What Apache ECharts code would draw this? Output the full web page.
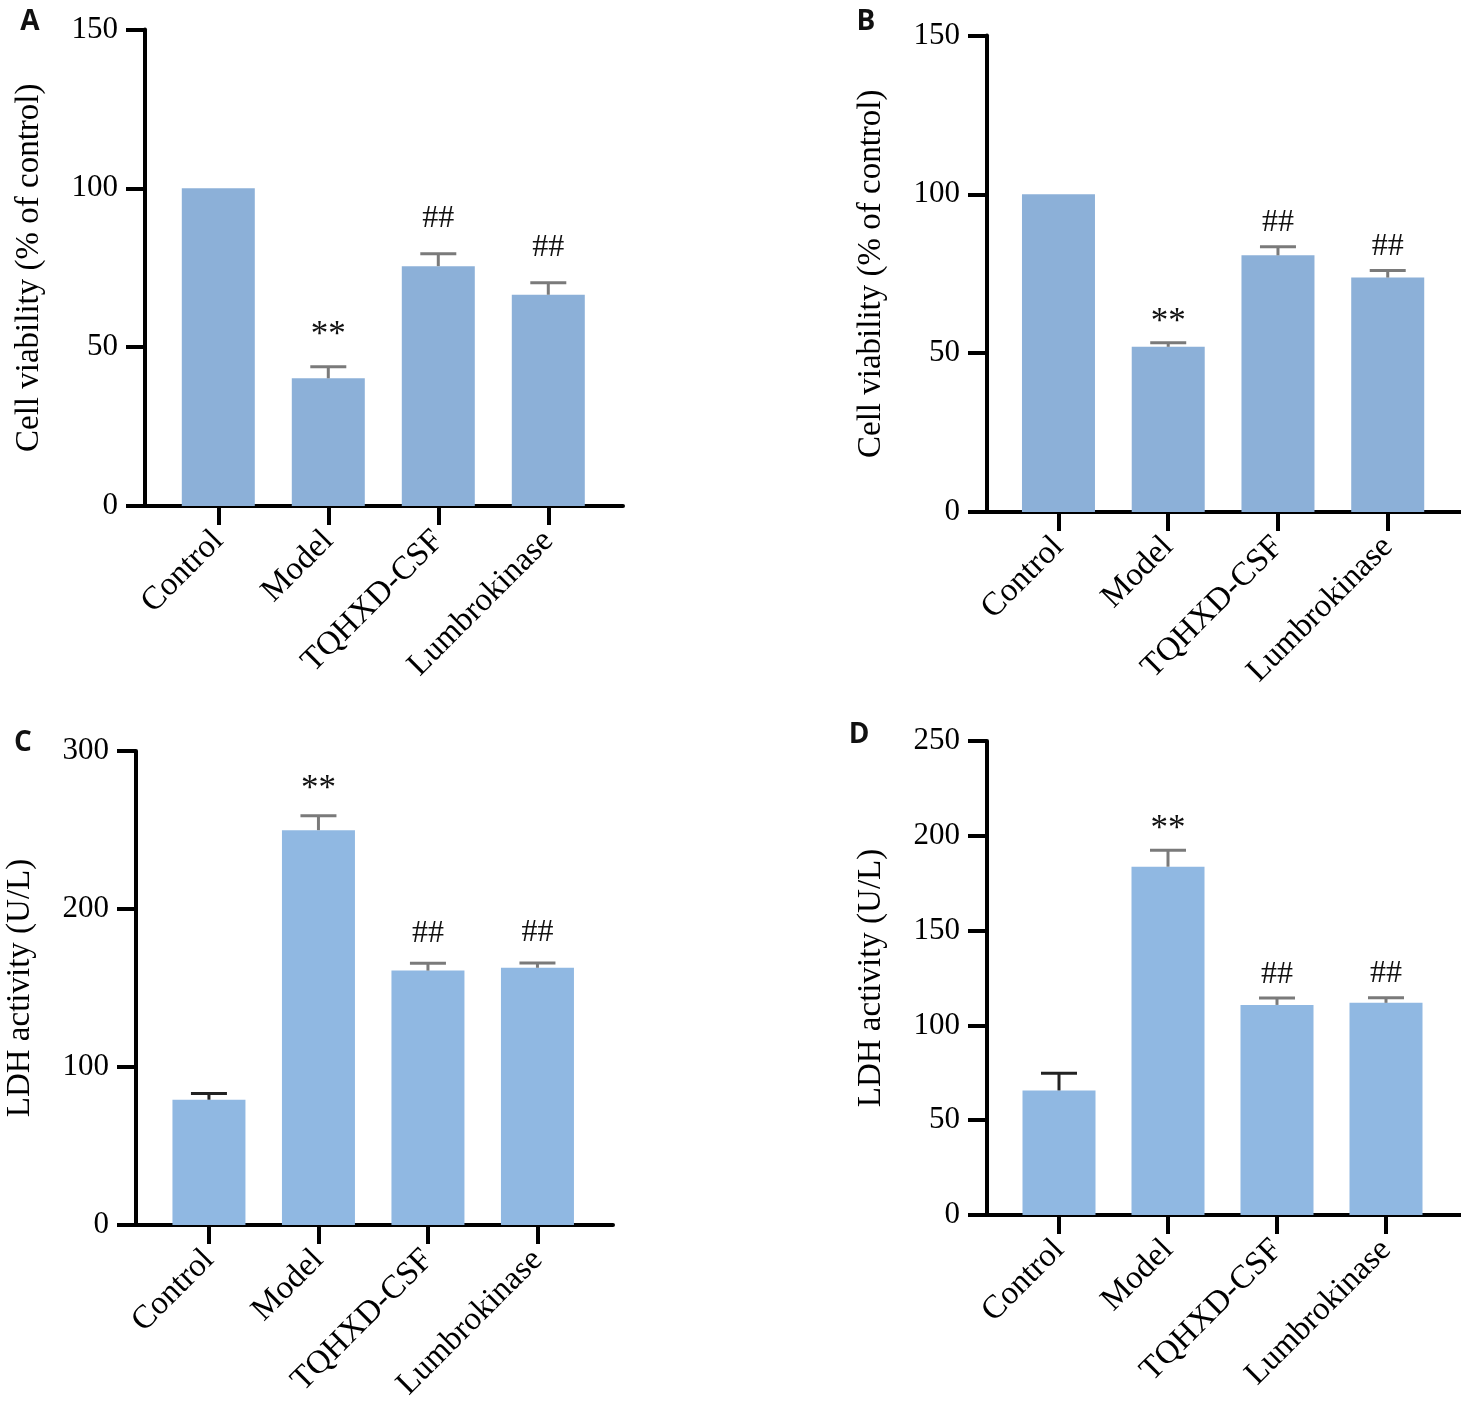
<!DOCTYPE html>
<html>
<head>
<meta charset="utf-8">
<script src="https://cdn.jsdelivr.net/npm/echarts@6/dist/echarts.min.js"></script>
<style>html,body{margin:0;padding:0;background:#fff}#c{width:1461px;height:1404px}</style>
</head>
<body>
<div id="c"></div>
<script>
// ---- data ----
const categories = ['Control', 'Model', 'TQHXD-CSF', 'Lumbrokinase'];
const viabilityA = [100, 40.2, 75.5, 66.5];
const viabilityAErr = [0, 3.6, 3.9, 3.8];
const viabilityB = [100, 52.0, 80.8, 73.8];
const viabilityBErr = [0, 1.3, 2.7, 2.2];
const ldhC = [79.3, 249.9, 161.0, 162.8];
const ldhCErr = [4.0, 9.1, 4.6, 3.0];
const ldhD = [65.7, 183.7, 110.8, 111.9];
const ldhDErr = [9.1, 8.7, 3.6, 2.7];
const marksA = ['', '**', '##', '##'];
const marksB = ['', '**', '##', '##'];
const marksC = ['', '**', '##', '##'];
const marksD = ['', '**', '##', '##'];
const ticksViability = {min: 0, max: 150, interval: 50};
const ticksLdhC = {min: 0, max: 300, interval: 100};
const ticksLdhD = {min: 0, max: 250, interval: 50};
const nameViability = 'Cell viability (% of control)';
const nameLdh = 'LDH activity (U/L)';
const panelLetters = ['A', 'B', 'C', 'D'];

// ---- layout / style ----
const SERIF = '"Liberation Serif", "Times New Roman", serif';
const panels = [
  {vals: viabilityA, errs: viabilityAErr, marks: marksA, ticks: ticksViability, name: nameViability,
   frame: {left: 145, top: 29.5, width: 478, height: 476.5}, bars: {left: 163.3, width: 440},
   color: '#8cb0d8', ctrlErr: '#7f7f7f', markGap: 35, letter: [30, 22]},
  {vals: viabilityB, errs: viabilityBErr, marks: marksB, ticks: ticksViability, name: nameViability,
   frame: {left: 987, top: 35.5, width: 474, height: 476.5}, bars: {left: 1003.6, width: 439},
   color: '#8cb0d8', ctrlErr: '#7f7f7f', markGap: 24, letter: [866, 22]},
  {vals: ldhC, errs: ldhCErr, marks: marksC, ticks: ticksLdhC, name: nameLdh,
   frame: {left: 136, top: 751, width: 477, height: 474}, bars: {left: 154.2, width: 438},
   color: '#90b8e2', ctrlErr: '#222', markGap: 30, letter: [23, 743]},
  {vals: ldhD, errs: ldhDErr, marks: marksD, ticks: ticksLdhD, name: nameLdh,
   frame: {left: 987, top: 741, width: 474, height: 474}, bars: {left: 1004.5, width: 436},
   color: '#90b8e2', ctrlErr: '#222', markGap: 24, letter: [859, 735]}
];

const grid = [], xAxis = [], yAxis = [], series = [], graphic = [];
panels.forEach((p, k) => {
  const gFrame = grid.length;
  grid.push({left: p.frame.left, top: p.frame.top, width: p.frame.width, height: p.frame.height});
  const gBars = grid.length;
  grid.push({left: p.bars.left, top: p.frame.top, width: p.bars.width, height: p.frame.height});

  xAxis.push({type: 'value', gridIndex: gFrame, min: 0, max: 1,
    axisLine: {show: true, lineStyle: {color: '#000', width: 4}},
    axisTick: {show: false}, axisLabel: {show: false}, splitLine: {show: false}});
  yAxis.push({type: 'value', gridIndex: gFrame, min: p.ticks.min, max: p.ticks.max, interval: p.ticks.interval,
    axisLine: {show: true, lineStyle: {color: '#000', width: 4}},
    axisTick: {show: true, inside: false, length: 19, lineStyle: {color: '#000', width: 4}},
    axisLabel: {show: true, margin: 27, fontSize: 31, fontFamily: SERIF, color: '#000'},
    splitLine: {show: false},
    name: p.name, nameLocation: 'middle', nameGap: 99,
    nameTextStyle: {fontSize: 33, fontFamily: SERIF, color: '#000'}});

  const xB = xAxis.length;
  xAxis.push({type: 'category', gridIndex: gBars, data: categories, boundaryGap: true,
    axisLine: {show: false},
    axisTick: {show: true, alignWithLabel: true, length: 19, lineStyle: {color: '#000', width: 4}},
    axisLabel: {show: true, interval: 0, rotate: 45, margin: 30, fontSize: 33, fontFamily: SERIF, color: '#000'},
    splitLine: {show: false}});
  const yB = yAxis.length;
  yAxis.push({type: 'value', gridIndex: gBars, min: p.ticks.min, max: p.ticks.max, show: false});

  series.push({type: 'bar', xAxisIndex: xB, yAxisIndex: yB, data: p.vals, barWidth: 73,
    itemStyle: {color: p.color}, silent: true});

  const errData = p.vals.map((v, i) => [i, v, p.errs[i]]);
  series.push({type: 'custom', xAxisIndex: xB, yAxisIndex: yB, data: errData, z: 5, silent: true,
    renderItem: (params, api) => {
      const i = api.value(0), v = api.value(1), e = api.value(2);
      const base = api.coord([i, v]);
      const cap = api.coord([i, v + e]);
      const x = base[0];
      const col = i === 0 ? p.ctrlErr : '#7a7a7a';
      const children = [];
      if (e > 0) {
        children.push({type: 'line', shape: {x1: x, y1: base[1], x2: x, y2: cap[1]},
          style: {stroke: col, lineWidth: 3}});
        children.push({type: 'line', shape: {x1: x - 18, y1: cap[1], x2: x + 18, y2: cap[1]},
          style: {stroke: col, lineWidth: 3}});
      }
      const m = p.marks[params.dataIndex];
      if (m) {
        const star = m.indexOf('*') >= 0;
        children.push({type: 'text', x: x, y: cap[1] - p.markGap + (star ? 4 : 0),
          style: {text: m, fontSize: star ? 35 : 32, fontFamily: SERIF, fill: '#111',
            align: 'center', verticalAlign: 'middle'}});
      }
      return {type: 'group', children: children};
    }});

  graphic.push({type: 'text', x: p.letter[0], y: p.letter[1],
    style: {text: panelLetters[k], fontSize: 28, fontWeight: 'bold', fontFamily: '"Open Sans", "Noto Sans", sans-serif',
      fill: '#111', align: 'center', verticalAlign: 'middle'}});
});

const chart = echarts.init(document.getElementById('c'), null, {renderer: 'canvas'});
chart.setOption({animation: false, backgroundColor: '#fff', grid, xAxis, yAxis, series, graphic});
</script>
</body>
</html>
